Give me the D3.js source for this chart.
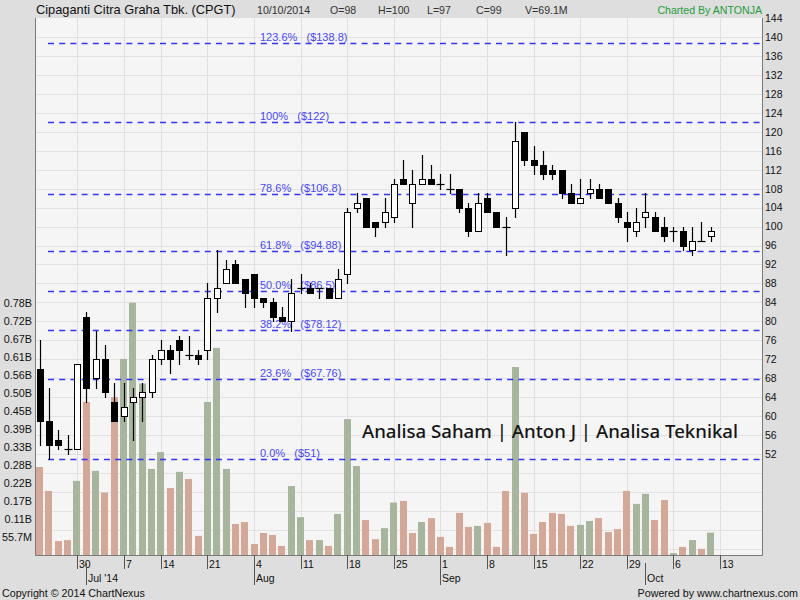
<!DOCTYPE html>
<html><head><meta charset="utf-8">
<script src="https://cdn.jsdelivr.net/npm/d3@7"></script>
<style>
html,body{margin:0;padding:0;background:#dedede;}
svg{display:block;font-family:"Liberation Sans",Arial,sans-serif;}
</style></head>
<body><svg id="c" width="800" height="600"></svg>
<script>
// ---------- DATA ----------
const dates = ["2014-06-24","2014-06-25","2014-06-26","2014-06-27","2014-06-30",
"2014-07-01","2014-07-02","2014-07-03","2014-07-04","2014-07-07","2014-07-08","2014-07-10","2014-07-11",
"2014-07-14","2014-07-15","2014-07-16","2014-07-17","2014-07-18","2014-07-21","2014-07-22","2014-07-23","2014-07-24","2014-07-25",
"2014-08-04","2014-08-05","2014-08-06","2014-08-07","2014-08-08","2014-08-11","2014-08-12","2014-08-13","2014-08-14","2014-08-15",
"2014-08-18","2014-08-19","2014-08-20","2014-08-21","2014-08-22","2014-08-25","2014-08-26","2014-08-27","2014-08-28","2014-08-29",
"2014-09-01","2014-09-02","2014-09-03","2014-09-04","2014-09-05","2014-09-08","2014-09-09","2014-09-10","2014-09-11","2014-09-12",
"2014-09-15","2014-09-16","2014-09-17","2014-09-18","2014-09-19","2014-09-22","2014-09-23","2014-09-24","2014-09-25","2014-09-26",
"2014-09-29","2014-09-30","2014-10-01","2014-10-02","2014-10-03","2014-10-06","2014-10-07","2014-10-08","2014-10-09","2014-10-10"];
const futureDates = ["2014-10-13","2014-10-14","2014-10-15","2014-10-16","2014-10-17"];

const open  = [70,59,55,53,53, 81,68,72,63,60,63,64,65, 72,74,76,73,73,74,85,88,92,89,
  90,85,84,81,80,87,87,87,87,85, 90,104,106,101,101,102,110,105,109,110,
  109,108,108,104,99,106,103,100,104,120, 114,113,112,112,107,105,107,108,108,105,
  101,99,102,102,100,99,99,95,97,98];
const high  = [76,66,57,56,71, 82,78,75,67,67,66,67,73, 76,75,77,77,74,88,95,93,93,89,
  90,85,85,83,89,90,88,87,87,91, 104,107,106,101,106,110,114,112,115,113,
  111,111,108,105,107,107,103,102,122,120, 117,116,113,112,109,110,110,109,108,106,
  103,104,107,103,102,100,100,100,101,100];
const low   = [54,51,53,52,53, 63,66,64,59,59,55,59,64, 71,69,71,72,71,72,82,88,88,83,
  83,83,80,80,78,86,86,85,85,85, 88,103,100,98,100,101,109,100,109,109,
  108,107,103,98,99,103,100,94,102,113, 111,110,110,106,105,105,106,106,105,101,
  97,98,100,99,97,97,95,94,97,97];
const close = [59,54,54,53,71, 66,72,65,59,62,64,65,72, 74,72,74,73,72,85,87,91,88,86,
  85,84,81,80,86,87,86,87,85,89, 103,105,100,100,103,109,109,109,110,109,
  109,108,104,99,105,103,100,100,118,114, 113,111,111,107,105,106,108,106,105,102,
  100,101,103,99,98,99,96,97,97,99];
// volume in millions of shares
const volume = [272,198,43,46,229, 473,260,193,488,606,779.8,530,266, 318,207,257,235,59,473,640,266,96,102,
  34,68,62,28,213,117,46,46,28,127, 420,275,108,49,83,162,167,68,102,114,
  56,25,130,87,90,99,25,198,581,192, 65,102,130,127,90,93,105,114,71,80,
  198,158,189,108,170,6,25,46,19,69.1];

const priceTicks = [52,56,60,64,68,72,76,80,84,88,92,96,100,104,108,112,116,120,124,128,132,136,140,144];
const volTickValues = [55.7,111.4,167.1,222.8,278.5,334.2,389.9,445.6,501.3,557,612.7,668.4,724.1,779.8];
const volTickLabels = ["55.7M","0.11B","0.17B","0.22B","0.28B","0.33B","0.39B","0.45B","0.50B","0.56B","0.61B","0.67B","0.72B","0.78B"];

const weekTicks  = ["2014-06-30","2014-07-07","2014-07-14","2014-07-21","2014-08-04","2014-08-11","2014-08-18","2014-08-25",
  "2014-09-01","2014-09-08","2014-09-15","2014-09-22","2014-09-29","2014-10-06","2014-10-13"];
const weekLabels = ["30","7","14","21","4","11","18","25","1","8","15","22","29","6","13"];
const monthTicks  = ["2014-07-01","2014-08-04","2014-09-01","2014-10-01"];
const monthLabels = ["Jul '14","Aug","Sep","Oct"];

const fibPct   = ["123.6%","100%","78.6%","61.8%","50.0%","38.2%","23.6%","0.0%"];
const fibPrice = [138.8,122,106.8,94.88,86.5,78.12,67.76,51];
const fibLabel = ["($138.8)","($122)","($106.8)","($94.88)","($86.5)","($78.12)","($67.76)","($51)"];

const header = {title:"Cipaganti Citra Graha Tbk. (CPGT)", date:"10/10/2014", o:"O=98", h:"H=100", l:"L=97", c:"C=99", v:"V=69.1M"};

// ---------- LAYOUT ----------
const L = 35, R = 762, T = 18, B = 555;
const svg = d3.select("#c");

const x = d3.scaleBand().domain(dates.concat(futureDates)).range([L, R]).paddingInner(0.25).paddingOuter(0.125);
const cx = d => Math.round(x(d) + x.bandwidth()/2) + 0.5;
const step = x.step();
const y = d3.scaleLinear().domain([30.7, 144]).range([B, T]);
const yv = d3.scaleLinear().domain([0, 779.8]).range([B, 302.7]);

// background
svg.append("rect").attr("width",800).attr("height",600).attr("fill","#dedede");
svg.append("rect").attr("x",L).attr("y",T).attr("width",R-L).attr("height",B-T).attr("fill","#f5f5f5");

// grid
const grid = svg.append("g");
grid.selectAll("line.h").data(d3.range(32,144,4)).join("line")
  .attr("x1",L).attr("x2",R).attr("y1",d=>Math.round(y(d))+0.5).attr("y2",d=>Math.round(y(d))+0.5)
  .attr("stroke","#e2e2e2").attr("stroke-width",1);
grid.selectAll("line.v").data(weekTicks).join("line")
  .attr("x1",d=>cx(d)).attr("x2",d=>cx(d)).attr("y1",T).attr("y2",B)
  .attr("stroke","#e0e0e0").attr("stroke-width",1);

// volume bars
const rows = dates.map((d,i)=>({d, o:open[i], h:high[i], l:low[i], c:close[i], v:volume[i],
  up: i===0 ? close[i]>open[i] : close[i]>close[i-1]}));
svg.append("g").selectAll("rect").data(rows).join("rect")
  .attr("x",r=>Math.round(x(r.d)+x.bandwidth()/2-3.5))
  .attr("width",7)
  .attr("y",r=>yv(r.v)).attr("height",r=>B-yv(r.v))
  .attr("fill",r=>r.up ? "#a6b59b" : "#d4a797");

// fib lines
const fg = svg.append("g");
fg.selectAll("line").data(fibPrice).join("line")
  .attr("x1",48).attr("x2",R-2)
  .attr("y1",d=>Math.round(y(d))+0.5).attr("y2",d=>Math.round(y(d))+0.5)
  .attr("stroke","#3434ff").attr("stroke-width",1.6).attr("stroke-dasharray","6,5.2");
fg.selectAll("text").data(fibPrice).join("text")
  .attr("x",260).attr("y",d=>Math.round(y(d))-2.5)
  .attr("font-size",11).attr("fill","#4848ff")
  .style("white-space","pre")
  .text((d,i)=>fibPct[i]+"   "+fibLabel[i]);

// watermark
svg.append("text").attr("x",362).attr("y",438)
  .attr("font-family","'Noto Sans','Open Sans',sans-serif").attr("font-size",18).attr("font-weight",500)
  .attr("fill","#151515").attr("textLength",376).attr("lengthAdjust","spacingAndGlyphs")
  .text("Analisa Saham | Anton J | Analisa Teknikal");

// candles
const cg = svg.append("g");
cg.selectAll("line.wick").data(rows).join("line")
  .attr("x1",r=>cx(r.d)).attr("x2",r=>cx(r.d))
  .attr("y1",r=>Math.round(y(r.h))).attr("y2",r=>Math.round(y(r.l))+1)
  .attr("stroke","#000").attr("stroke-width",1.2);
cg.selectAll("rect").data(rows.filter(r=>r.o!==r.c)).join("rect")
  .attr("x",r=>cx(r.d)-3).attr("width",6)
  .attr("y",r=>Math.round(y(Math.max(r.o,r.c)))+0.5)
  .attr("height",r=>Math.max(1,Math.round(y(Math.min(r.o,r.c)))-Math.round(y(Math.max(r.o,r.c)))))
  .attr("fill",r=>r.c<r.o ? "#000" : "#fff").attr("stroke","#000").attr("stroke-width",1);
cg.selectAll("line.doji").data(rows.filter(r=>r.o===r.c)).join("line")
  .attr("x1",r=>cx(r.d)-4).attr("x2",r=>cx(r.d)+4)
  .attr("y1",r=>Math.round(y(r.c))+0.5).attr("y2",r=>Math.round(y(r.c))+0.5)
  .attr("stroke","#000").attr("stroke-width",1.2);

// frame
svg.append("path").attr("d",`M${L+0.5},${T} V${B+0.5} H${R+0.5} V${T}`)
  .attr("fill","none").attr("stroke","#7a7a7a").attr("stroke-width",1);

// right price axis
const ra = svg.append("g").attr("transform",`translate(${R},0)`)
  .call(d3.axisRight(y).tickValues(priceTicks).tickSize(0).tickPadding(3).tickFormat(d3.format("d")));
ra.select(".domain").remove();
ra.selectAll("text").attr("font-size",10.5).attr("fill","#111").attr("font-family","'Liberation Sans',Arial,sans-serif");

// left volume axis
const la = svg.append("g").attr("transform",`translate(${L-1},0)`)
  .call(d3.axisLeft(yv).tickValues(volTickValues).tickSize(0).tickPadding(2).tickFormat((d,i)=>volTickLabels[i]));
la.select(".domain").remove();
la.selectAll("text").attr("font-size",10.8).attr("fill","#111").attr("font-family","'Liberation Sans',Arial,sans-serif");

// bottom axis
const bx = svg.append("g");
bx.selectAll("line.wk").data(weekTicks).join("line")
  .attr("x1",d=>cx(d)).attr("x2",d=>cx(d)).attr("y1",B).attr("y2",B+14)
  .attr("stroke","#555");
bx.selectAll("text.wk").data(weekTicks).join("text")
  .attr("x",d=>cx(d)+1.5).attr("y",B+13).attr("font-size",10.5).attr("fill","#111")
  .text((d,i)=>weekLabels[i]);
bx.selectAll("line.mo").data(monthTicks).join("line")
  .attr("x1",d=>cx(d)).attr("x2",d=>cx(d)).attr("y1",d=>weekTicks.includes(d)?B:B+8).attr("y2",B+30)
  .attr("stroke","#555");
bx.selectAll("text.mo").data(monthTicks).join("text")
  .attr("x",d=>cx(d)+1.5).attr("y",B+27).attr("font-size",10.5).attr("fill","#111")
  .text((d,i)=>monthLabels[i]);

// header
const hd = svg.append("g").attr("font-size",10.6).attr("fill","#333");
hd.append("text").attr("x",36).attr("y",14).attr("font-size",12.8).attr("fill","#111").text(header.title);
hd.append("text").attr("x",257).attr("y",14).text(header.date);
hd.append("text").attr("x",330).attr("y",14).text(header.o);
hd.append("text").attr("x",378).attr("y",14).text(header.h);
hd.append("text").attr("x",427).attr("y",14).text(header.l);
hd.append("text").attr("x",476).attr("y",14).text(header.c);
hd.append("text").attr("x",525).attr("y",14).text(header.v);
hd.append("text").attr("x",762).attr("y",14).attr("text-anchor","end").attr("fill","#1f9d3a").text("Charted By ANTONJA");

// footer
svg.append("text").attr("x",2).attr("y",597).attr("font-size",10.7).attr("fill","#111").text("Copyright \u00a9 2014 ChartNexus");
svg.append("text").attr("x",798).attr("y",597).attr("text-anchor","end").attr("font-size",10.7).attr("fill","#111").text("Powered by www.chartnexus.com");
</script></body></html>
